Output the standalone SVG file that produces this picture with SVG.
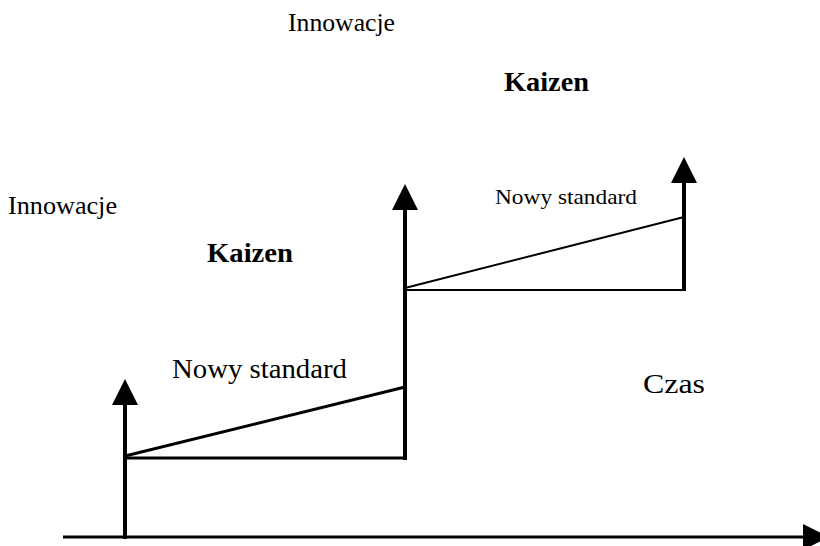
<svg xmlns="http://www.w3.org/2000/svg" width="820" height="546" viewBox="0 0 820 546">
  <style>
    .t { font-family: "Liberation Serif", "Times New Roman", serif; fill: #000; }
    .b { font-weight: bold; }
    .ln { stroke: #000; fill: none; stroke-linecap: butt; }
  </style>
  <defs>
    <marker id="ah" markerUnits="userSpaceOnUse" viewBox="0 0 26 26" markerWidth="26" markerHeight="26" refX="0" refY="13" orient="auto">
      <path d="M0,0 L26,13 L0,26 Z" fill="#000"/>
    </marker>
  </defs>
  <rect width="820" height="546" fill="#fff"/>

  <g id="connectors">
    <line id="axis" class="ln" x1="63" y1="537" x2="803" y2="537" stroke-width="3" marker-end="url(#ah)"/>
    <line id="v1" class="ln" x1="125" y1="539" x2="125" y2="405" stroke-width="4" marker-end="url(#ah)"/>
    <line class="ln" x1="125" y1="458" x2="407" y2="458" stroke-width="3"/>
    <line class="ln" x1="125" y1="456" x2="405" y2="387" stroke-width="3"/>
    <line id="v2" class="ln" x1="405" y1="460" x2="405" y2="210" stroke-width="4" marker-end="url(#ah)"/>
    <line class="ln" x1="405" y1="290" x2="685" y2="290" stroke-width="2"/>
    <line class="ln" x1="405" y1="288" x2="684" y2="217" stroke-width="2"/>
    <line id="v3" class="ln" x1="684" y1="291" x2="684" y2="183" stroke-width="4" marker-end="url(#ah)"/>
  </g>

  <g id="label-innowacje-top"><text class="t" x="288" y="31" font-size="26" textLength="107" lengthAdjust="spacingAndGlyphs">Innowacje</text></g>
  <g id="label-kaizen-top"><text class="t b" x="504" y="91" font-size="27" textLength="85" lengthAdjust="spacingAndGlyphs">Kaizen</text></g>
  <g id="label-innowacje-left"><text class="t" x="8" y="214" font-size="26" textLength="109" lengthAdjust="spacingAndGlyphs">Innowacje</text></g>
  <g id="label-kaizen-left"><text class="t b" x="207" y="262" font-size="27" textLength="86" lengthAdjust="spacingAndGlyphs">Kaizen</text></g>
  <g id="label-nowy-big"><text class="t" x="172" y="378" font-size="27" textLength="175" lengthAdjust="spacingAndGlyphs">Nowy standard</text></g>
  <g id="label-nowy-small"><text class="t" x="495" y="204" font-size="22" textLength="142" lengthAdjust="spacingAndGlyphs">Nowy standard</text></g>
  <g id="label-czas"><text class="t" x="643" y="393" font-size="27" textLength="62" lengthAdjust="spacingAndGlyphs">Czas</text></g>
</svg>
